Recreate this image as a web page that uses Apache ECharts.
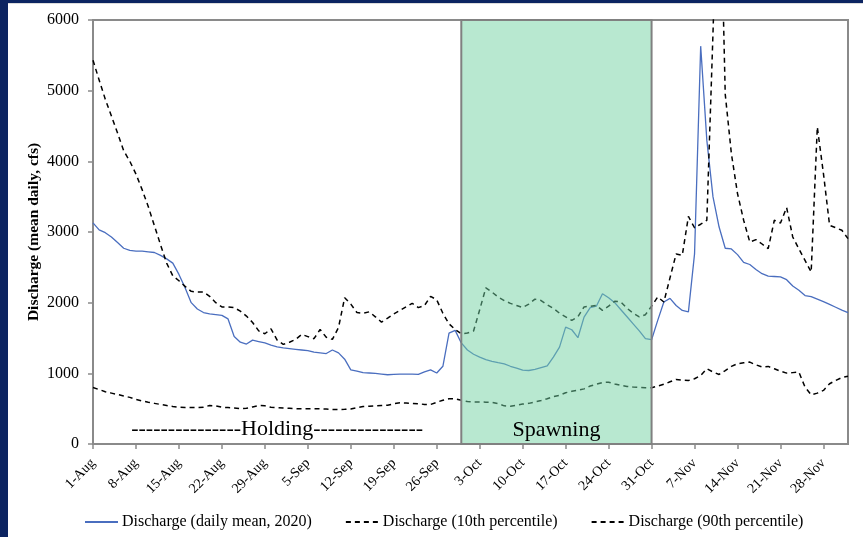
<!DOCTYPE html>
<html>
<head>
<meta charset="utf-8">
<title>Discharge 2020</title>
<script src="https://cdn.jsdelivr.net/npm/echarts@6/dist/echarts.min.js"></script>
<style>
  html, body { margin: 0; padding: 0; background: #fff; }
  #chart { width: 863px; height: 537px; }
</style>
</head>
<body>
<div id="chart"></div>
<script>
// day labels 1-Aug .. 2-Dec (2020)
var monthNames = ["Jan", "Feb", "Mar", "Apr", "May", "Jun", "Jul", "Aug", "Sep", "Oct", "Nov", "Dec"];
var days = [];
for (var i = 0; i < 124; i++) {
  var d = new Date(2020, 7, 1 + i);
  days.push(d.getDate() + "-" + monthNames[d.getMonth()]);
}

// daily mean discharge 2020 (cfs)
var dailyMean = [
  3130, 3030, 2990, 2930, 2850, 2770, 2740, 2730, 2730, 2720, 2710, 2670, 2620, 2560, 2400, 2210,
  2000, 1910, 1860, 1840, 1830, 1820, 1770, 1520, 1440, 1415, 1470, 1450, 1430, 1400, 1375,
  1360, 1350, 1340, 1330, 1320, 1300, 1290, 1280, 1330, 1290, 1200, 1050, 1030, 1010, 1005,
  1000, 990, 980, 985, 990, 990, 990, 985, 1020, 1050, 1005, 1100, 1570, 1608, 1430,
  1330, 1270, 1230, 1195, 1170, 1150, 1135, 1100, 1075, 1045, 1040, 1055, 1080, 1105, 1230, 1371,
  1654, 1617, 1504, 1796, 1929, 1950, 2127, 2070, 2000, 1900, 1800, 1700, 1600, 1490, 1476,
  1750, 2010, 2060, 1960, 1890, 1870, 2690, 5630, 4300, 3500, 3070, 2770, 2760, 2680, 2570, 2540,
  2470, 2410, 2375, 2370, 2365, 2325, 2235, 2175, 2100, 2085, 2050, 2015, 1975, 1935, 1895, 1858
];

// 10th percentile
var pct10 = [
  800, 770, 740, 720, 700, 680, 660, 630, 610, 590, 575, 560, 545, 530, 520, 515,
  515, 515, 520, 545, 540, 520, 515, 510, 500, 505, 525, 545, 540, 520, 515,
  510, 505, 500, 498, 500, 500, 498, 495, 490, 488, 490, 495, 515, 530, 535,
  540, 545, 548, 570, 585, 580, 575, 570, 560, 560, 590, 620, 640, 640, 620,
  600, 595, 595, 592, 590, 570, 540, 535, 550, 565, 575, 595, 615, 640, 670, 690,
  725, 745, 760, 780, 820, 845, 870, 875, 850, 830, 815, 805, 800, 796, 796,
  820, 845, 880, 914, 905, 899, 923, 970, 1065, 1020, 984, 1040, 1098, 1136, 1150, 1159,
  1120, 1090, 1098, 1065, 1030, 1003, 1010, 1017, 805, 697, 720, 758, 853, 900, 940, 960
];

// 90th percentile
var pct90 = [
  5430, 5150, 4880, 4640, 4400, 4150, 4000, 3820, 3600, 3360, 3090, 2820, 2560, 2380, 2310, 2230,
  2160, 2150, 2150, 2090, 2000, 1940, 1940, 1930, 1880, 1810, 1720, 1600, 1560, 1630, 1470,
  1410, 1440, 1480, 1550, 1520, 1490, 1620, 1510, 1480, 1650, 2070, 1980, 1860, 1850, 1870,
  1800, 1725, 1780, 1840, 1890, 1940, 1990, 1930, 1960, 2090, 2040, 1850, 1700, 1620, 1560,
  1570, 1600, 1900, 2210, 2150, 2080, 2030, 1990, 1960, 1930, 1980, 2050, 2030, 1970, 1920, 1850,
  1800, 1750, 1800, 1940, 1950, 1960, 1890, 1950, 2020, 2010, 1920, 1850, 1800, 1830, 1950,
  2080, 2010, 2350, 2690, 2670, 3220, 3060, 3110, 3166, 5800, 8700, 4950, 4110, 3544, 3166, 2858,
  2892, 2830, 2765, 3166, 3128, 3346, 2929, 2760, 2599, 2433, 4487, 3827, 3095, 3060, 3024, 2906
];

var holdingStart = 0, spawnStart = 60, spawnEnd = 91;

var serif = "'Liberation Serif', 'Times New Roman', serif";
var axisGray = "#8a8a8a";

var chart = echarts.init(document.getElementById("chart"), null, { renderer: "canvas" });

var option = {
  backgroundColor: "#ffffff",
  animation: false,
  graphic: [
    { type: "rect", left: 0, top: 0, shape: { width: 863, height: 3 }, style: { fill: "#0c2461" } },
    { type: "rect", left: 0, top: 0, shape: { width: 8, height: 537 }, style: { fill: "#0c2461" } },
    { type: "rect", left: 8, top: 3, shape: { width: 855, height: 1 }, style: { fill: "#dcdcdc" } }
  ],
  grid: {
    left: 93, top: 20, right: 15, bottom: 93,
    show: true, borderColor: axisGray, borderWidth: 2, backgroundColor: "transparent",
    outerBoundsMode: "none"
  },
  legend: {
    data: ["Discharge (daily mean, 2020)", "Discharge (10th percentile)", "Discharge (90th percentile)"],
    top: 509, left: 79,
    itemWidth: 33, itemHeight: 10, itemGap: 33,
    itemStyle: { opacity: 0 },
    textStyle: { fontFamily: serif, fontSize: 16, color: "#000", padding: [0, 0, 0, -1] }
  },
  xAxis: {
    type: "category",
    data: days,
    boundaryGap: false,
    axisLine: { lineStyle: { color: axisGray, width: 2 } },
    axisTick: { interval: 6, length: 5, lineStyle: { color: axisGray, width: 1.5 } },
    axisLabel: { interval: 6, rotate: 45, margin: 17, fontFamily: serif, fontSize: 14, color: "#000" },
    splitLine: { show: false }
  },
  yAxis: {
    type: "value",
    min: 0, max: 6000, interval: 1000,
    name: "Discharge (mean daily, cfs)",
    nameLocation: "middle",
    nameGap: 51,
    nameMoveOverlap: false,
    nameTextStyle: { fontFamily: serif, fontWeight: "bold", fontSize: 15.5, color: "#000" },
    axisLine: { show: true, lineStyle: { color: axisGray, width: 2 } },
    axisTick: { show: true, length: 5, lineStyle: { color: axisGray, width: 1.5 } },
    axisLabel: {
      margin: 14, fontFamily: serif, fontSize: 16, color: "#000",
      formatter: function (v) { return String(v); }
    },
    splitLine: { show: false }
  },
  series: [
    {
      name: "Discharge (daily mean, 2020)",
      type: "line",
      data: dailyMean,
      symbol: "none",
      z: 1,
      lineStyle: { color: "#4a6ebf", width: 1.3 },
      itemStyle: { color: "#4a6ebf" }
    },
    {
      name: "Discharge (10th percentile)",
      type: "line",
      data: pct10,
      symbol: "none",
      z: 1,
      lineStyle: { color: "#000", width: 1.5, type: [5, 4] },
      itemStyle: { color: "#000" }
    },
    {
      name: "Discharge (90th percentile)",
      type: "line",
      data: pct90,
      symbol: "none",
      z: 1,
      lineStyle: { color: "#000", width: 1.5, type: [5, 4] },
      itemStyle: { color: "#000" }
    },
    {
      name: "periods",
      type: "line",
      data: [],
      z: 10,
      silent: true,
      markArea: {
        silent: true,
        z: 10,
        data: [
          [
            {
              xAxis: days[holdingStart],
              itemStyle: { color: "transparent", borderWidth: 0 },
              label: {
                show: true, position: "insideBottom", distance: 4,
                formatter: "---------------Holding---------------",
                fontFamily: serif, fontSize: 22, color: "#000"
              }
            },
            { xAxis: days[spawnStart] }
          ],
          [
            {
              xAxis: days[spawnStart],
              itemStyle: { color: "rgba(113, 209, 161, 0.5)", borderColor: "#808080", borderWidth: 2 },
              label: {
                show: true, position: "insideBottom", distance: 4,
                formatter: "Spawning",
                fontFamily: serif, fontSize: 22, color: "#000"
              }
            },
            { xAxis: days[spawnEnd] }
          ]
        ]
      }
    }
  ]
};

chart.setOption(option);
</script>
</body>
</html>
